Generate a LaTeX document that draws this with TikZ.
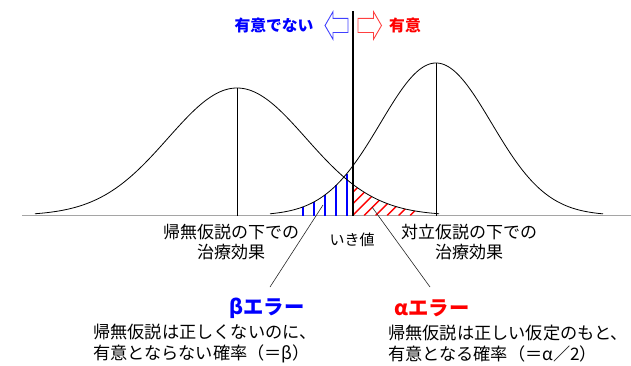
\documentclass[tikz,border=0pt]{standalone}
\usepackage{fontspec}
\setmainfont{Noto Sans CJK JP}
\definecolor{bluex}{RGB}{0,0,255}
\definecolor{redx}{RGB}{255,0,0}
\definecolor{basegray}{RGB}{165,165,165}
\begin{document}
\begin{tikzpicture}[x=1pt,y=-1pt,
  lbl/.style={font=\fontsize{17}{20}\selectfont, align=center, inner sep=0pt},
  desc/.style={font=\fontsize{17.2}{21}\selectfont, align=left, inner sep=0pt, anchor=west},
  errb/.style={font=\fontsize{20.3}{22}\selectfont\bfseries, inner sep=0pt},
  topl/.style={font=\fontsize{15.8}{18}\selectfont\bfseries, inner sep=0pt},
  curve/.style={line width=0.8pt, black},
  peakline/.style={line width=0.8pt, black},
  leader/.style={line width=0.6pt, black!85},
  bluebar/.style={line width=2.2pt, bluex},
  hatch/.style={line width=1.4pt, redx},
  arrowshape/.style={line width=0.9pt, line join=miter}
]
\useasboundingbox (0,0) rectangle (631,365);

% baseline
\draw[basegray, line width=1.6pt] (22,215.5) -- (631,215.5);

% red hatch (alpha region)
\begin{scope}
\clip (352.7,215.5) -- plot[domain=352.7:416,samples=40] (\x,{215.5-127.5*exp(-0.5*((\x-237)/69)^2)}) -- (416,215.5) -- cycle;
\foreach \k in {-3,...,6}
  \draw[hatch] ({352.7+\k*11.5},215.5) -- ++(45,-45);
\end{scope}

% blue bars (beta region)
\foreach \xx in {302.7,314,325,336,346.7}
  \draw[bluebar] (\xx,215.5) -- (\xx,{215.5-152.5*exp(-0.5*((\xx-436)/55.5)^2)});

% curves
\draw[curve] plot[domain=35:439,samples=160,smooth] (\x,{215.5-127.5*exp(-0.5*((\x-237)/69)^2)});
\draw[curve] plot[domain=270:603,samples=160,smooth] (\x,{215.5-152.5*exp(-0.5*((\x-436)/55.5)^2)});

% peak lines
\draw[peakline] (237,88) -- (237,215.5);
\draw[peakline] (436,63) -- (436,215.5);

% threshold
\draw[black, line width=2.4pt] (352.7,11) -- (352.7,215.5);

% top arrows
\draw[arrowshape, bluex!75] (325,25.5) -- (333,11.7) -- (333,18.3) -- (348,18.3) -- (348,32.5) -- (333,32.5) -- (333,39.3) -- cycle;
\draw[arrowshape, redx!75] (358,18.3) -- (373.5,18.3) -- (373.5,11.7) -- (381.5,25.5) -- (373.5,39.3) -- (373.5,32.5) -- (358,32.5) -- cycle;
\node[topl, text=bluex] (ns) at (274,25.5) {有意でない};
\node[topl, text=redx] (sg) at (405,25.5) {有意};

% labels
\node[lbl] (h0) at (231,242) {帰無仮説の下での\\治療効果};
\node[lbl, font=\fontsize{15}{18}\selectfont] (th) at (352,239.5) {いき値};
\node[lbl] (h1) at (469,242) {対立仮説の下での\\治療効果};

% error titles
\node[errb, text=bluex] (be) at (267,308) {βエラー};
\node[errb, text=redx] (ae) at (432,308) {αエラー};

% descriptions
\node[desc] (bd) at (93,343.5) {帰無仮説は正しくないのに、\\有意とならない確率（＝β）};
\node[desc] (ad) at (388,343.5) {帰無仮説は正しい仮定のもと、\\有意となる確率（＝α／2）};

% leader lines
\coordinate (lb1) at (323,205);
\coordinate (lb2) at (270,287);
\coordinate (la1) at (372,207);
\coordinate (la2) at (430,287);
\draw[leader] (lb1) -- (lb2);
\draw[leader] (la1) -- (la2);
\end{tikzpicture}
\end{document}
